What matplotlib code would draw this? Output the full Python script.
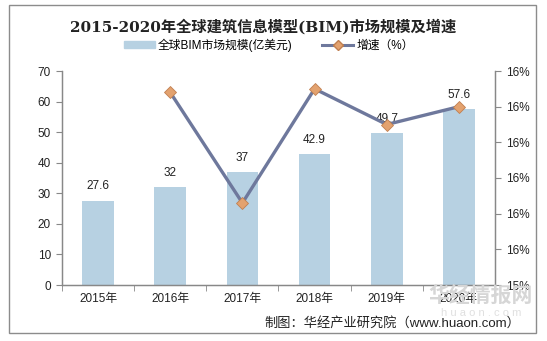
import numpy as np
import matplotlib
matplotlib.use("Agg")
import matplotlib.pyplot as plt
from matplotlib.patches import Rectangle, Patch
from matplotlib.lines import Line2D
from matplotlib.ticker import FuncFormatter

plt.rcParams['font.family'] = ['Liberation Sans', 'Noto Sans CJK SC']

years = ['2015年', '2016年', '2017年', '2018年', '2019年', '2020年']
market = [27.6, 32, 37, 42.9, 49.7, 57.6]          # 亿美元
growth = [None, 15.94, 15.63, 15.95, 15.85, 15.90]  # %

barColor = '#b7d1e2'
lineColor = '#6e789c'
dotColor = '#e3a26f'

fig = plt.figure(figsize=(5.47, 3.41), dpi=100)
ax = fig.add_axes([62/547, 1-285/341, (495-62)/547, (285-71)/341])
ax2 = ax.twinx()

x = np.arange(len(years))
ax.bar(x, market, width=0.44, color=barColor, zorder=2)
for xi, v in zip(x, market):
  ax.annotate(f'{v:g}', (xi, v), xytext=(0, 6), textcoords='offset points',
              ha='center', va='bottom', fontsize=8.5, color='#222222')

gx = [xi for xi, g in zip(x, growth) if g is not None]
gy = [g for g in growth if g is not None]
ax2.plot(gx, gy, color=lineColor, lw=2.4, marker='D', ms=6,
         mfc=dotColor, mec='#c07f50', mew=0.6, zorder=3)

ax.set_xlim(-0.5, len(years) - 0.5)
ax.set_ylim(0, 70)
ax.set_yticks(np.arange(0, 71, 10))
ax2.set_ylim(15.4, 16.0)
ax2.set_yticks([15.4, 15.5, 15.6, 15.7, 15.8, 15.9, 16.0])
ax2.yaxis.set_major_formatter(FuncFormatter(lambda v, p: '%d%%' % int(v + 0.5 + 1e-9)))

ax.set_xticks(x)
ax.set_xticklabels(years)
ax.set_xticks(np.arange(-0.5, len(years), 1), minor=True)
ax.tick_params(axis='x', which='major', length=0, pad=6, labelsize=8.5, colors='#222222')
ax.tick_params(axis='x', which='minor', length=4, color='#888888', direction='out')
ax.tick_params(axis='y', length=4, color='#888888', labelsize=8.5, labelcolor='#222222', pad=4)
ax2.tick_params(axis='y', length=4, color='#888888', labelsize=8.5, labelcolor='#222222', pad=4)

for a in (ax, ax2):
  a.spines['top'].set_visible(False)
  for s in ('left', 'right', 'bottom'):
    a.spines[s].set_color('#888888')
    a.spines[s].set_linewidth(0.9)
ax.set_zorder(ax2.get_zorder() - 1)
ax2.patch.set_visible(False)

fig.text(263/547, 1-27/341, '2015-2020年全球建筑信息模型(BIM)市场规模及增速',
         ha='center', va='center', fontsize=11, fontweight='bold', color='#222222',
         family=['DejaVu Serif', 'Noto Sans CJK SC'])

handles = [Patch(color=barColor),
           Line2D([], [], color=lineColor, lw=2.2, marker='D', ms=5, mfc=dotColor, mec='#c07f50')]
fig.legend(handles, ['全球BIM市场规模(亿美元)', '增速（%）'], loc='center',
           bbox_to_anchor=(269/547, 1-45/341), ncol=2, frameon=False, fontsize=8.5,
           handlelength=2.6, handleheight=0.6, columnspacing=2.5, handletextpad=0.3)

# watermark
fig.text(481/547, 1-296/341, '华经情报网', ha='center', va='center', fontsize=15,
         fontweight='bold', color='#d6d6d6', zorder=0)
fig.text(481/547, 1-313/341, 'h u a o n . c o m', ha='center', va='center', fontsize=8,
         color='#e0e0e0', zorder=0)

fig.text(520/547, 1-323/341, '制图：华经产业研究院（www.huaon.com）', ha='right', va='center',
         fontsize=9.5, color='#222222')

fig.patches.append(Rectangle((9/547, 8/341), (536-9)/547, (336-8)/341,
                             transform=fig.transFigure, fill=False, edgecolor='#8c8c8c', lw=1))

fig.savefig('out.png', dpi=100)
